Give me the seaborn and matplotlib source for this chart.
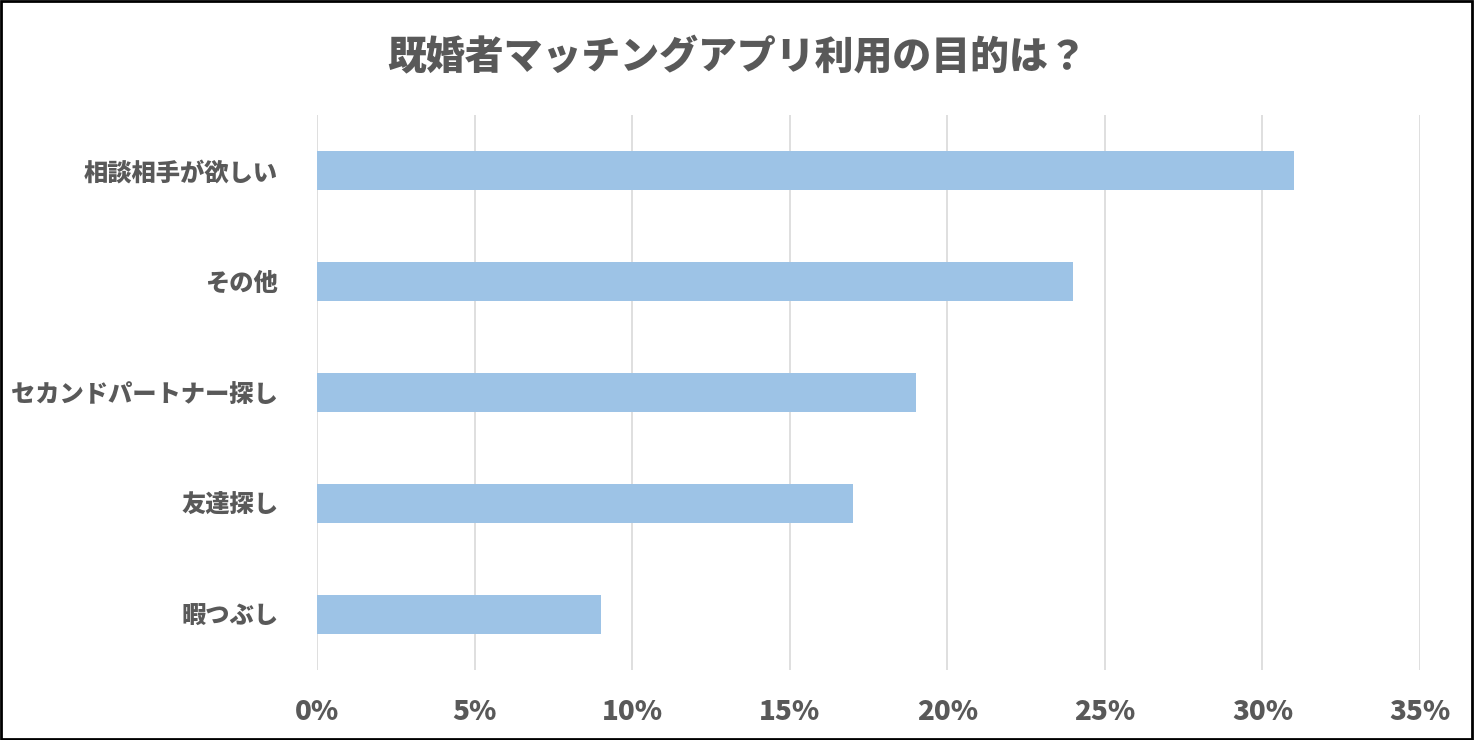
import matplotlib
matplotlib.use("Agg")
import matplotlib.pyplot as plt
import seaborn as sns
import pandas as pd
from matplotlib.ticker import FuncFormatter

categories = ["相談相手が欲しい", "その他", "セカンドパートナー探し", "友達探し", "暇つぶし"]
values = [31, 24, 19, 17, 9]
xticks = [0, 5, 10, 15, 20, 25, 30, 35]

plt.rcParams["font.family"] = "Noto Sans CJK JP"
df = pd.DataFrame({"cat": categories, "val": values})

fig = plt.figure(figsize=(14.75, 7.4), dpi=100)
ax = fig.add_axes([0.2149, 0.0946, 0.7478, 0.75])
sns.barplot(data=df, x="val", y="cat", color="#9DC3E6", width=0.36, ax=ax, saturation=1)
ax.set_xlim(0, 35)
ax.set_ylim(4.5, -0.5)
ax.set_xticks(xticks)
ax.xaxis.set_major_formatter(FuncFormatter(lambda v, p: f"{int(v)}%"))
ax.grid(axis="x", color="#D9D9D9", linewidth=1.2)
ax.set_axisbelow(True)
for s in ax.spines.values():
    s.set_visible(False)
ax.tick_params(length=0)
ax.tick_params(axis="x", pad=20, labelsize=20, labelcolor="#595959")
ax.tick_params(axis="y", pad=28, labelsize=17.5, labelcolor="#595959")
for t in ax.get_xticklabels() + ax.get_yticklabels():
    t.set_fontweight("heavy")
ax.set_xlabel("")
ax.set_ylabel("")
fig.text(0.5, 0.922, "既婚者マッチングアプリ利用の目的は？", ha="center", va="center",
         fontsize=28, fontweight="heavy", color="#595959")
fig.patches.append(plt.Rectangle((0.001, 0.002), 0.997, 0.996, transform=fig.transFigure,
                                 fill=False, edgecolor="black", linewidth=2))
fig.savefig("out.png", dpi=100)
